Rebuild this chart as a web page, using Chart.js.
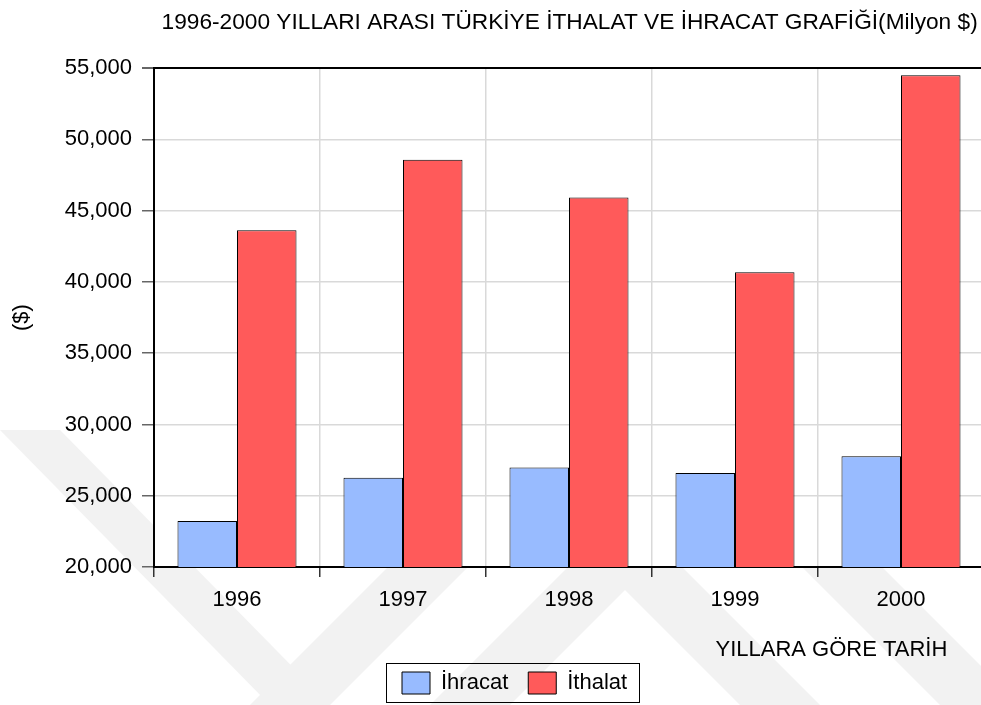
<!DOCTYPE html>
<html>
<head>
<meta charset="utf-8">
<script src="https://cdn.jsdelivr.net/npm/chart.js@4.4.1/dist/chart.umd.min.js"></script>
<style>
  html, body { margin: 0; padding: 0; background: #fff; overflow: hidden; }
  #wrap { width: 990px; height: 705px; position: relative; }
</style>
</head>
<body>
<div id="wrap"><canvas id="myChart"></canvas></div>
<script>
// chart data
const years = ["1996", "1997", "1998", "1999", "2000"];
const ihracat = [23224, 26261, 26974, 26587, 27775];
const ithalat = [43627, 48559, 45921, 40671, 54503];
const yTicks = [20000, 25000, 30000, 35000, 40000, 45000, 50000, 55000];

const FONT = "'Liberation Sans', Arial, sans-serif";
const PLOT_BOTTOM = 567;
const PLOT_LEFT = 154;
const NB = '\u00a0';

// grey watermark stripes behind everything, white plot area on top
const backdrop = {
    id: 'backdrop',
    beforeDraw: function (chart) {
        const ctx = chart.ctx;
        const a = chart.chartArea;
        ctx.save();
        ctx.fillStyle = '#fff';
        ctx.fillRect(0, 0, chart.width, chart.height);
        ctx.fillStyle = '#f2f2f2';
        const bands = [
            [[0, 430], [60, 430], [330, 705], [270, 705]],
            [[250, 705], [330, 705], [470, 565], [390, 565]],
            [[430, 705], [510, 705], [650, 565], [570, 565]],
            [[600, 565], [680, 565], [820, 705], [740, 705]],
            [[800, 565], [880, 565], [990, 675], [990, 705], [940, 705]]
        ];
        bands.forEach(function (b) {
            ctx.beginPath();
            ctx.moveTo(b[0][0], b[0][1]);
            for (let i = 1; i < b.length; i++) ctx.lineTo(b[i][0], b[i][1]);
            ctx.closePath();
            ctx.fill();
        });
        ctx.fillStyle = '#fff';
        ctx.fillRect(a.left, a.top, a.right - a.left, a.bottom - a.top);
        ctx.restore();
    }
};

// move the legend where the reference has it and draw the frame around it
const legendFrame = {
    id: 'legendFrame',
    afterUpdate: function (chart) {
        const lg = chart.legend;
        const hb = lg.legendHitBoxes;
        if (!hb.length) return;
        const dx = 402 - hb[0].left;
        const dy = 672 - hb[0].top;
        lg.left += dx; lg.right += dx;
        lg.top += dy; lg.bottom += dy;
        hb.forEach(function (h) { h.left += dx; h.top += dy; });
    },
    afterDraw: function (chart) {
        const boxes = chart.legend.legendHitBoxes;
        if (!boxes.length) return;
        let l = Infinity, r = -Infinity, t = Infinity, b = -Infinity;
        boxes.forEach(function (h) {
            l = Math.min(l, h.left); r = Math.max(r, h.left + h.width);
            t = Math.min(t, h.top); b = Math.max(b, h.top + h.height);
        });
        const ctx = chart.ctx;
        ctx.save();
        ctx.strokeStyle = '#000';
        ctx.lineWidth = 1;
        const x0 = Math.round(l - 16) + 0.5, y0 = Math.round(t - 9) + 0.5;
        const x1 = Math.round(r + 12) + 0.5, y1 = Math.round(b + 8) + 0.5;
        ctx.strokeRect(x0, y0, x1 - x0, y1 - y0);
        ctx.restore();
    }
};

new Chart(document.getElementById("myChart"), {
    type: 'bar',
    data: {
        labels: years,
        datasets: [{
            label: 'İhracat',
            data: ihracat,
            backgroundColor: '#98bbff',
            borderColor: '#000',
            borderWidth: 1,
            categoryPercentage: 0.717,
            barPercentage: 1.0
        }, {
            label: 'İthalat',
            data: ithalat,
            backgroundColor: '#ff5a5a',
            borderColor: '#000',
            borderWidth: 1,
            categoryPercentage: 0.717,
            barPercentage: 1.0
        }]
    },
    options: {
        responsive: true,
        maintainAspectRatio: false,
        animation: false,
        layout: { padding: { left: 0, right: 6, top: 0, bottom: 0 } },
        plugins: {
            title: {
                display: true,
                text: '1996-2000 YILLARI ARASI TÜRKİYE İTHALAT VE İHRACAT GRAFİĞİ(Milyon $)' + NB,
                align: 'end',
                color: '#000',
                font: { family: FONT, size: 22.7, weight: 'normal' },
                padding: { top: 9, bottom: 31.8 }
            },
            legend: {
                display: true,
                position: 'bottom',
                labels: {
                    color: '#000',
                    font: { family: FONT, size: 22 },
                    boxWidth: 28,
                    boxHeight: 22,
                    padding: 20
                }
            },
            tooltip: { enabled: false }
        },
        scales: {
            x: {
                grid: {
                    offset: true,
                    color: '#d9d9d9',
                    lineWidth: 1.5,
                    tickColor: '#333',
                    tickLength: 10
                },
                border: { color: '#000', width: 2 },
                ticks: {
                    color: '#000',
                    font: { family: FONT, size: 22 },
                    padding: 10
                },
                title: {
                    display: true,
                    text: 'YILLARA GÖRE TARİH' + NB.repeat(6),
                    align: 'end',
                    color: '#000',
                    font: { family: FONT, size: 22 },
                    padding: { top: 0, bottom: -10 }
                },
                afterFit: function (scale) {
                    const lg = scale.chart.legend;
                    const lgH = lg ? lg.height : 0;
                    scale.height = 705 - lgH - PLOT_BOTTOM;
                }
            },
            y: {
                min: 20000,
                max: 55000,
                afterBuildTicks: function (scale) {
                    scale.ticks = yTicks.map(function (v) { return { value: v }; });
                },
                grid: {
                    color: function (c) {
                        return c.tick && c.tick.value === 55000 ? '#000' : '#d9d9d9';
                    },
                    lineWidth: function (c) {
                        return c.tick && c.tick.value === 55000 ? 2 : 1.5;
                    },
                    tickColor: '#666',
                    tickLength: 12
                },
                border: { color: '#000', width: 2 },
                ticks: {
                    color: '#000',
                    font: { family: FONT, size: 22 },
                    padding: 10,
                    callback: function (v) { return v.toLocaleString('en-US'); }
                },
                title: {
                    display: true,
                    text: '($)',
                    color: '#000',
                    font: { family: FONT, size: 22 },
                    padding: { top: 9, bottom: 0 }
                },
                afterFit: function (scale) {
                    scale.width = PLOT_LEFT;
                }
            }
        }
    },
    plugins: [backdrop, legendFrame]
});
</script>
</body>
</html>
